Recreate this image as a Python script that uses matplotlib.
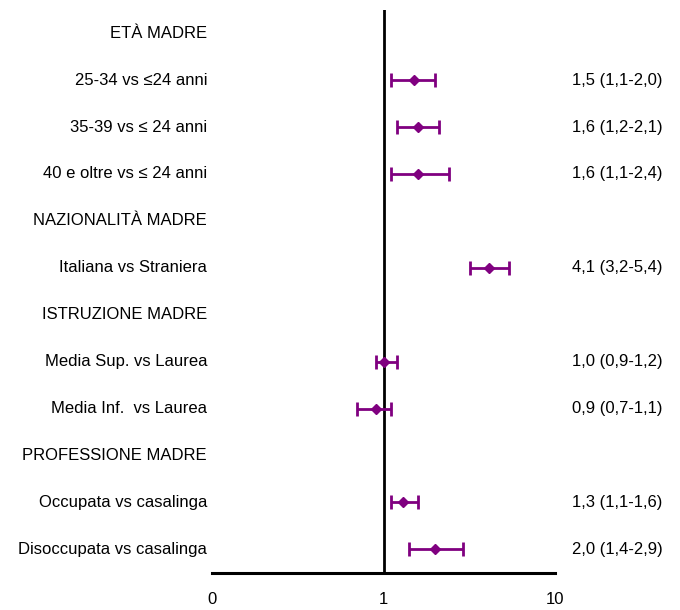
import numpy as np
import matplotlib.pyplot as plt
from matplotlib.ticker import FixedLocator, FixedFormatter
import matplotlib.transforms as mtransforms

# Forest plot rows, top to bottom (headers have no estimate)
row_labels = [
    "ETÀ MADRE",
    "25-34 vs ≤24 anni",
    "35-39 vs ≤ 24 anni",
    "40 e oltre vs ≤ 24 anni",
    "NAZIONALITÀ MADRE",
    "Italiana vs Straniera",
    "ISTRUZIONE MADRE",
    "Media Sup. vs Laurea",
    "Media Inf.  vs Laurea",
    "PROFESSIONE MADRE",
    "Occupata vs casalinga",
    "Disoccupata vs casalinga",
]
odds_ratio = [np.nan, 1.5, 1.6, 1.6, np.nan, 4.1, np.nan, 1.0, 0.9, np.nan, 1.3, 2.0]
ci_low = [np.nan, 1.1, 1.2, 1.1, np.nan, 3.2, np.nan, 0.9, 0.7, np.nan, 1.1, 1.4]
ci_high = [np.nan, 2.0, 2.1, 2.4, np.nan, 5.4, np.nan, 1.2, 1.1, np.nan, 1.6, 2.9]

x_ticks = [0.1, 1, 10]
x_tick_labels = ["0", "1", "10"]

purple = "#800080"
plt.rcParams['font.family'] = ['Liberation Sans', 'DejaVu Sans']
plt.rcParams['font.size'] = 12

fig = plt.figure(figsize=(6.8, 6.1), dpi=100)
ax = fig.add_axes([0.312, 0.061, 0.504, 0.923])

y = np.arange(len(row_labels))
orr = np.array(odds_ratio)
lo = np.array(ci_low)
hi = np.array(ci_high)
has_est = ~np.isnan(orr)

ax.errorbar(orr[has_est], y[has_est],
            xerr=[orr[has_est] - lo[has_est], hi[has_est] - orr[has_est]],
            fmt='D', color=purple, ecolor=purple, markersize=5,
            elinewidth=2, capsize=5, capthick=2, zorder=3)

# reference line at OR = 1
ax.axvline(1, color='black', lw=2, zorder=2)

ax.set_xscale('log')
ax.set_xlim(0.1, 10)
ax.set_ylim(len(row_labels) - 0.5, -0.5)

ax.xaxis.set_major_locator(FixedLocator(x_ticks))
ax.xaxis.set_major_formatter(FixedFormatter(x_tick_labels))
ax.xaxis.set_minor_locator(FixedLocator([]))
ax.tick_params(axis='x', length=0, pad=14, labelsize=12)
ax.set_yticks([])

for side in ['top', 'right', 'left']:
    ax.spines[side].set_visible(False)
ax.spines['bottom'].set_linewidth(2.2)

trans = mtransforms.blended_transform_factory(ax.transAxes, ax.transData)
for i, label in enumerate(row_labels):
    ax.text(-0.015, i, label, transform=trans, ha='right', va='center')
    if has_est[i]:
        txt = f"{orr[i]:.1f} ({lo[i]:.1f}-{hi[i]:.1f})".replace('.', ',')
        ax.text(1.315, i, txt, transform=trans, ha='right', va='center')

fig.savefig("out.png", dpi=100)
